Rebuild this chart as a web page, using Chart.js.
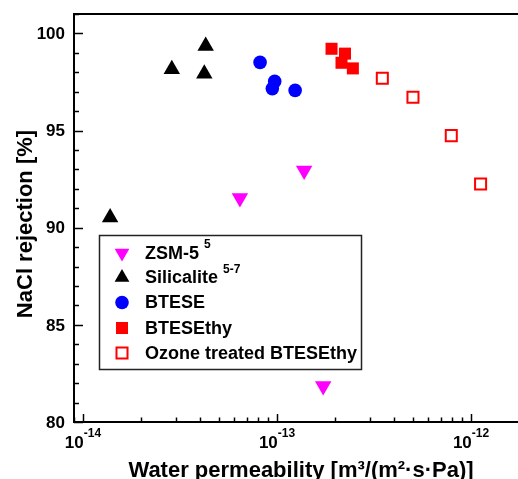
<!DOCTYPE html>
<html>
<head>
<meta charset="utf-8">
<script src="https://cdn.jsdelivr.net/npm/chart.js@4"></script>
<style>
  html, body { margin: 0; padding: 0; background: #fff; }
  #c { display: block; }
</style>
</head>
<body>
<canvas id="c" width="518" height="479"></canvas>
<script>
// values (x: water permeability, y: NaCl rejection %)
const zsmX = [6.44e-14, 1.38e-13, 1.73e-13]
const zsmY = [91.53, 92.94, 81.85]
const silX = [1.38e-14, 2.87e-14, 4.22e-14, 4.29e-14]
const silY = [90.52, 98.15, 97.93, 99.35]
const bteseX = [8.18e-14, 9.73e-14, 9.46e-14, 1.24e-13]
const bteseY = [98.51, 97.53, 97.16, 97.07]
const ethyX = [1.91e-13, 2.24e-13, 2.15e-13, 2.46e-13]
const ethyY = [99.21, 98.96, 98.49, 98.2]
const ozoneX = [3.49e-13, 5.02e-13, 7.91e-13, 1.12e-12]
const ozoneY = [97.69, 96.71, 94.74, 92.25]

const seriesLabels = ['ZSM-5', 'Silicalite', 'BTESE', 'BTESEthy', 'Ozone treated BTESEthy']
const seriesRefs = ['5', '5-7', '', '', '']

const yTicks = [80, 85, 90, 95, 100]
const xTicks = [1e-14, 1e-13, 1e-12]
const xTickExp = ['-14', '-13', '-12']

const FONT = '"Liberation Sans", Arial, sans-serif'

const pts = (xs, ys) => xs.map((x, i) => ({ x: x, y: ys[i] }))

const styles = [
  { pointStyle: 'triangle', rotation: 180, radius: 9.5, bg: '#ff00ff', border: '#ff00ff', bw: 0 },
  { pointStyle: 'triangle', rotation: 0, radius: 9.5, bg: '#000000', border: '#000000', bw: 0 },
  { pointStyle: 'circle', rotation: 0, radius: 6.8, bg: '#0000ff', border: '#0000ff', bw: 0 },
  { pointStyle: 'rect', rotation: 0, radius: 8.5, bg: '#ff0000', border: '#ff0000', bw: 0 },
  { pointStyle: 'rect', rotation: 0, radius: 7.8, bg: '#ffffff', border: '#ff0000', bw: 2 }
]
const allData = [pts(zsmX, zsmY), pts(silX, silY), pts(bteseX, bteseY), pts(ethyX, ethyY), pts(ozoneX, ozoneY)]

const datasets = allData.map((d, i) => ({
  label: seriesLabels[i],
  data: d,
  pointStyle: styles[i].pointStyle,
  rotation: styles[i].rotation,
  pointRadius: styles[i].radius,
  pointHoverRadius: styles[i].radius,
  backgroundColor: styles[i].bg,
  borderColor: styles[i].border,
  borderWidth: styles[i].bw,
  showLine: false
}))

// axes, ticks, titles and the legend box are drawn here, using the chart scales
const frame = {
  id: 'frame',
  afterDatasetsDraw(chart) {
    const ctx = chart.ctx
    const a = chart.chartArea
    const xs = chart.scales.x, ys = chart.scales.y
    ctx.save()
    ctx.strokeStyle = '#000'
    ctx.fillStyle = '#000'
    ctx.lineWidth = 2
    ctx.beginPath()
    ctx.moveTo(a.right, a.top); ctx.lineTo(a.left, a.top)
    ctx.lineTo(a.left, a.bottom); ctx.lineTo(a.right, a.bottom)
    ctx.stroke()

    // y ticks (inward)
    ctx.lineWidth = 1.5
    for (let v = 80; v <= 101; v++) {
      const y = Math.round(ys.getPixelForValue(v)) + 0.5
      const len = v % 5 === 0 ? 9 : 5
      ctx.beginPath(); ctx.moveTo(a.left, y); ctx.lineTo(a.left + len, y); ctx.stroke()
    }
    // x ticks (inward), decades and minor
    for (let e = -15; e <= -12; e++) {
      for (let m = 1; m <= 9; m++) {
        const v = m * Math.pow(10, e)
        if (v < xs.min || v > xs.max) continue
        const x = Math.round(xs.getPixelForValue(v)) + 0.5
        const len = m === 1 ? 8 : 4.5
        ctx.beginPath(); ctx.moveTo(x, a.bottom); ctx.lineTo(x, a.bottom - len); ctx.stroke()
      }
    }

    // y tick labels
    ctx.font = 'bold 17px ' + FONT
    ctx.textAlign = 'right'
    ctx.textBaseline = 'middle'
    yTicks.forEach(v => ctx.fillText(String(v), a.left - 9, ys.getPixelForValue(v) + 1))

    // x tick labels 10^n
    ctx.textBaseline = 'alphabetic'
    ctx.textAlign = 'left'
    xTicks.forEach((v, i) => {
      ctx.font = 'bold 17px ' + FONT
      const w1 = ctx.measureText('10').width
      ctx.font = 'bold 12px ' + FONT
      const w2 = ctx.measureText(xTickExp[i]).width
      const x0 = xs.getPixelForValue(v) - (w1 + w2) / 2
      ctx.font = 'bold 17px ' + FONT
      ctx.fillText('10', x0, 448)
      ctx.font = 'bold 12px ' + FONT
      ctx.fillText(xTickExp[i], x0 + w1, 437)
    })

    // axis titles
    ctx.font = 'bold 22px ' + FONT
    ctx.textAlign = 'center'
    ctx.fillText('Water permeability [m\u00b3/(m\u00b2\u00b7s\u00b7Pa)]', 301, 477)
    ctx.save()
    ctx.translate(32, 224)
    ctx.rotate(-Math.PI / 2)
    ctx.fillText('NaCl rejection [%]', 0, 0)
    ctx.restore()

    // legend
    ctx.lineWidth = 1.5
    ctx.strokeStyle = '#222'
    ctx.strokeRect(99.5, 235.5, 262, 134)
    const rowY = [253, 277.5, 302.5, 328, 353]
    seriesLabels.forEach((lab, i) => {
      const s = styles[i]
      ctx.fillStyle = s.bg
      ctx.strokeStyle = s.border
      ctx.lineWidth = s.bw
      const r = s.pointStyle === 'triangle' ? 8.5 : s.radius
      Chart.helpers.drawPoint(ctx, { pointStyle: s.pointStyle, rotation: s.rotation, radius: r, borderWidth: s.bw }, 122, rowY[i])
      ctx.fillStyle = '#000'
      ctx.textAlign = 'left'
      ctx.textBaseline = 'middle'
      ctx.font = 'bold 18px ' + FONT
      ctx.fillText(lab, 145, rowY[i] + 1)
      if (seriesRefs[i]) {
        const w = ctx.measureText(lab + ' ').width
        ctx.font = 'bold 12px ' + FONT
        ctx.fillText(seriesRefs[i], 145 + w, rowY[i] - 8)
      }
    })
    ctx.restore()
  }
}

new Chart(document.getElementById('c'), {
  type: 'scatter',
  data: { datasets: datasets },
  options: {
    responsive: false,
    animation: false,
    devicePixelRatio: 1,
    layout: { autoPadding: false, padding: { left: 74, top: 14, right: 0, bottom: 57 } },
    plugins: { legend: { display: false }, tooltip: { enabled: false } },
    scales: {
      x: { type: 'logarithmic', min: 8.99e-15, max: 1.746e-12, display: false },
      y: { type: 'linear', min: 80, max: 101, display: false }
    }
  },
  plugins: [frame]
})
</script>
</body>
</html>
